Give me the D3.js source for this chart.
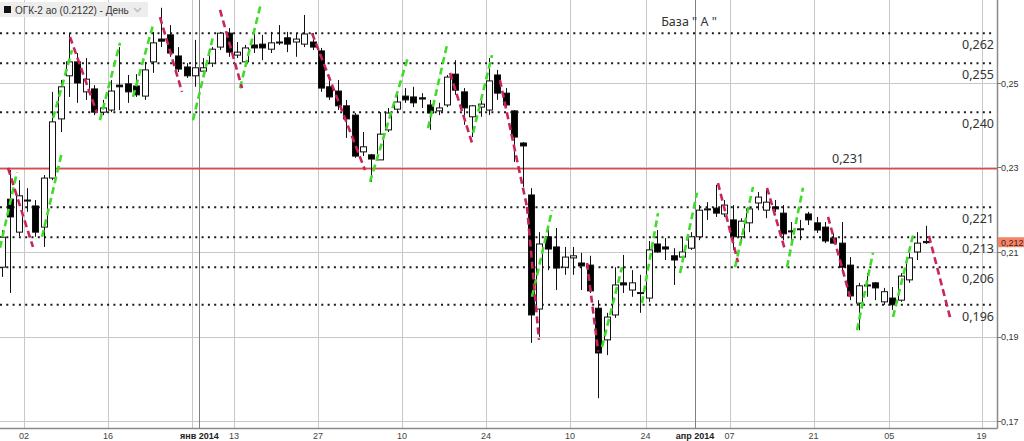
<!DOCTYPE html>
<html>
<head>
<meta charset="utf-8">
<script src="https://cdn.jsdelivr.net/npm/d3@7/dist/d3.min.js"></script>
<style>
  body { margin: 0; background: #fff; }
  svg { display: block; }
</style>
</head>
<body>
<script>
// trading-day index of the first candle (0 = 02 Dec 2013)
var firstIndex = -3;

// [open, high, low, close]
var candles = [
  [0.2064, 0.2152, 0.2041, 0.2135],
  [0.2225, 0.2294, 0.2003, 0.2183],
  [0.2147, 0.2270, 0.2138, 0.2233],
  [0.2223, 0.2251, 0.2195, 0.2222],
  [0.2209, 0.2223, 0.2136, 0.2147],
  [0.2159, 0.2282, 0.2112, 0.2275],
  [0.2275, 0.2479, 0.2270, 0.2408],
  [0.2415, 0.2507, 0.2384, 0.2491],
  [0.2517, 0.2618, 0.2467, 0.2550],
  [0.2550, 0.2571, 0.2453, 0.2500],
  [0.2479, 0.2559, 0.2460, 0.2509],
  [0.2486, 0.2495, 0.2424, 0.2431],
  [0.2431, 0.2460, 0.2424, 0.2441],
  [0.2436, 0.2507, 0.2431, 0.2481],
  [0.2495, 0.2585, 0.2436, 0.2491],
  [0.2498, 0.2519, 0.2453, 0.2479],
  [0.2493, 0.2521, 0.2467, 0.2472],
  [0.2469, 0.2550, 0.2460, 0.2531],
  [0.2550, 0.2621, 0.2524, 0.2595],
  [0.2604, 0.2678, 0.2585, 0.2599],
  [0.2614, 0.2637, 0.2562, 0.2571],
  [0.2564, 0.2585, 0.2526, 0.2533],
  [0.2538, 0.2547, 0.2512, 0.2517],
  [0.2517, 0.2602, 0.2491, 0.2536],
  [0.2528, 0.2559, 0.2526, 0.2536],
  [0.2547, 0.2585, 0.2538, 0.2580],
  [0.2585, 0.2621, 0.2578, 0.2618],
  [0.2618, 0.2630, 0.2562, 0.2573],
  [0.2566, 0.2597, 0.2559, 0.2573],
  [0.2550, 0.2590, 0.2538, 0.2583],
  [0.2590, 0.2618, 0.2571, 0.2583],
  [0.2592, 0.2614, 0.2554, 0.2583],
  [0.2580, 0.2621, 0.2571, 0.2595],
  [0.2597, 0.2637, 0.2590, 0.2595],
  [0.2607, 0.2621, 0.2573, 0.2592],
  [0.2597, 0.2618, 0.2562, 0.2604],
  [0.2592, 0.2661, 0.2585, 0.2616],
  [0.2597, 0.2618, 0.2578, 0.2585],
  [0.2576, 0.2583, 0.2479, 0.2488],
  [0.2491, 0.2512, 0.2460, 0.2467],
  [0.2481, 0.2507, 0.2436, 0.2446],
  [0.2446, 0.2460, 0.2370, 0.2415],
  [0.2424, 0.2429, 0.2323, 0.2327],
  [0.2337, 0.2384, 0.2327, 0.2349],
  [0.2330, 0.2332, 0.2266, 0.2320],
  [0.2318, 0.2431, 0.2318, 0.2379],
  [0.2389, 0.2441, 0.2384, 0.2429],
  [0.2438, 0.2472, 0.2431, 0.2455],
  [0.2469, 0.2488, 0.2453, 0.2460],
  [0.2467, 0.2491, 0.2443, 0.2453],
  [0.2465, 0.2476, 0.2441, 0.2462],
  [0.2448, 0.2460, 0.2389, 0.2429],
  [0.2434, 0.2453, 0.2424, 0.2441],
  [0.2448, 0.2519, 0.2443, 0.2514],
  [0.2521, 0.2554, 0.2472, 0.2483],
  [0.2479, 0.2488, 0.2401, 0.2441],
  [0.2420, 0.2448, 0.2372, 0.2446],
  [0.2443, 0.2460, 0.2420, 0.2450],
  [0.2436, 0.2559, 0.2424, 0.2505],
  [0.2519, 0.2531, 0.2460, 0.2476],
  [0.2476, 0.2488, 0.2443, 0.2448],
  [0.2434, 0.2436, 0.2313, 0.2372],
  [0.2358, 0.2360, 0.2254, 0.2351],
  [0.2235, 0.2251, 0.1885, 0.1951],
  [0.1965, 0.2147, 0.1899, 0.2119],
  [0.2136, 0.2159, 0.2057, 0.2107],
  [0.2112, 0.2157, 0.2010, 0.2062],
  [0.2064, 0.2112, 0.2046, 0.2088],
  [0.2086, 0.2112, 0.2046, 0.2091],
  [0.2074, 0.2098, 0.2010, 0.2067],
  [0.2069, 0.2091, 0.2003, 0.2008],
  [0.1967, 0.1986, 0.1754, 0.1861],
  [0.1892, 0.1956, 0.1856, 0.1946],
  [0.1951, 0.2064, 0.1944, 0.2022],
  [0.2027, 0.2093, 0.2003, 0.2022],
  [0.2010, 0.2057, 0.1994, 0.2027],
  [0.2003, 0.2046, 0.1956, 0.2004],
  [0.1991, 0.2126, 0.1982, 0.2105],
  [0.2119, 0.2152, 0.2098, 0.2100],
  [0.2112, 0.2133, 0.2081, 0.2107],
  [0.2091, 0.2109, 0.2022, 0.2081],
  [0.2088, 0.2136, 0.2081, 0.2100],
  [0.2109, 0.2147, 0.2105, 0.2136],
  [0.2136, 0.2211, 0.2128, 0.2199],
  [0.2202, 0.2218, 0.2176, 0.2201],
  [0.2204, 0.2259, 0.2183, 0.2192],
  [0.2190, 0.2223, 0.2183, 0.2211],
  [0.2176, 0.2211, 0.2105, 0.2136],
  [0.2136, 0.2180, 0.2121, 0.2173],
  [0.2169, 0.2207, 0.2147, 0.2202],
  [0.2216, 0.2242, 0.2199, 0.2230],
  [0.2199, 0.2247, 0.2180, 0.2218],
  [0.2207, 0.2223, 0.2195, 0.2202],
  [0.2192, 0.2211, 0.2128, 0.2143],
  [0.2150, 0.2171, 0.2124, 0.2149],
  [0.2154, 0.2176, 0.2128, 0.2155],
  [0.2190, 0.2195, 0.2164, 0.2176],
  [0.2169, 0.2183, 0.2145, 0.2152],
  [0.2159, 0.2171, 0.2121, 0.2126],
  [0.2133, 0.2145, 0.2121, 0.2121],
  [0.2121, 0.2171, 0.2057, 0.2064],
  [0.2069, 0.2088, 0.1986, 0.1996],
  [0.1979, 0.2027, 0.1915, 0.2020],
  [0.2022, 0.2050, 0.1994, 0.2021],
  [0.2027, 0.2029, 0.1986, 0.2015],
  [0.1982, 0.2015, 0.1975, 0.2006],
  [0.1991, 0.2017, 0.1963, 0.1975],
  [0.1986, 0.2050, 0.1982, 0.2043],
  [0.2034, 0.2100, 0.2027, 0.2086],
  [0.2100, 0.2147, 0.2081, 0.2121],
  [0.2125, 0.2162, 0.2119, 0.2122]
];

// dashed projection legs: [index1, price1, index2, price2]
var greenLegs = [
  [-3.21, 0.2110, -1.19, 0.2289],
  [1.79, 0.2136, 4.17, 0.2337],
  [3.10, 0.2417, 5.36, 0.2578],
  [8.69, 0.2412, 11.07, 0.2595],
  [12.62, 0.2467, 15.00, 0.2637],
  [19.76, 0.2412, 22.14, 0.2609],
  [25.36, 0.2488, 27.86, 0.2689],
  [40.83, 0.2266, 45.36, 0.2561],
  [47.74, 0.2393, 50.00, 0.2590],
  [53.10, 0.2382, 55.36, 0.2566],
  [60.12, 0.1994, 62.50, 0.2199],
  [68.45, 0.1875, 70.83, 0.2064],
  [73.21, 0.1979, 75.12, 0.2192],
  [77.74, 0.2050, 79.76, 0.2240],
  [84.29, 0.2064, 86.43, 0.2254],
  [90.48, 0.2064, 92.38, 0.2252],
  [98.81, 0.1915, 100.71, 0.2098],
  [103.10, 0.1946, 105.48, 0.2140]
];
var redLegs = [
  [-2.26, 0.2299, 0.71, 0.2112],
  [5.12, 0.2609, 8.33, 0.2429],
  [15.83, 0.2656, 18.45, 0.2479],
  [22.98, 0.2673, 25.60, 0.2488],
  [33.93, 0.2618, 40.24, 0.2294],
  [50.36, 0.2524, 52.98, 0.2358],
  [56.30, 0.2507, 59.52, 0.2207],
  [59.52, 0.2207, 60.95, 0.1892],
  [66.67, 0.2074, 68.00, 0.1864],
  [82.26, 0.2263, 84.64, 0.2076],
  [88.10, 0.2252, 90.24, 0.2105],
  [95.36, 0.2183, 97.98, 0.1994],
  [107.38, 0.2138, 109.88, 0.1946]
];

var levels = [0.2618, 0.2547, 0.2431, 0.2206, 0.2135, 0.2064, 0.1975];
var levelLabels = ['0,262', '0,255', '0,240', '0,221', '0,213', '0,206', '0,196'];
var baseLevel = 0.2297;
var baseLabel = '0,231';
var lastPrice = 0.2122;

var dayTicks = [0, 10, 20, 25, 35, 45, 55, 65, 74, 84, 94, 103, 114];
var dayLabels = ['02', '16', '', '13', '27', '10', '24', '10', '24', '07', '21', '05', '19'];
var monthTicks = [21, 80];
var monthLabels = ['янв 2014', 'апр 2014'];
var priceTicks = [0.17, 0.19, 0.21, 0.23, 0.25];

var width = 1024, height = 441;
var plotRight = 997, plotBottom = 428;

var svg = d3.select('body').append('svg')
    .attr('width', width)
    .attr('height', height)
    .style('font-family', 'Liberation Sans, Arial, sans-serif');

// gridline position for a trading day; candles sit 3px right of it
var x = d3.scaleLinear().domain([0, 114]).range([24, 981.6]);
var y = d3.scaleLinear().domain([0.17, 0.25]).range([421, 83]);
var cx = function(i) { return x(i) + 3; };

svg.append('defs').append('clipPath').attr('id', 'plot')
    .append('rect').attr('width', plotRight).attr('height', plotBottom);

var grid = svg.append('g');
grid.selectAll('.hg').data(priceTicks).enter().append('line')
    .attr('x1', 0).attr('x2', plotRight)
    .attr('y1', d => Math.round(y(d)) + 0.5).attr('y2', d => Math.round(y(d)) + 0.5)
    .attr('stroke', '#c8c8c8');
grid.selectAll('.vg').data(dayTicks).enter().append('line')
    .attr('x1', d => Math.round(x(d)) + 0.5).attr('x2', d => Math.round(x(d)) + 0.5)
    .attr('y1', 0).attr('y2', plotBottom)
    .attr('stroke', '#c8c8c8');
grid.selectAll('.mg').data(monthTicks).enter().append('line')
    .attr('x1', d => Math.round(x(d)) - 0.5).attr('x2', d => Math.round(x(d)) - 0.5)
    .attr('y1', 0).attr('y2', plotBottom)
    .attr('stroke', '#808080');

var plot = svg.append('g').attr('clip-path', 'url(#plot)');

// dotted support / resistance levels
plot.selectAll('.lvl').data(levels).enter().append('line')
    .attr('x1', 0).attr('x2', plotRight - 3)
    .attr('y1', d => y(d)).attr('y2', d => y(d))
    .attr('stroke', '#1a1a1a')
    .attr('stroke-width', 2)
    .attr('stroke-dasharray', '2,4.3');

plot.append('line')
    .attr('x1', 0).attr('x2', plotRight)
    .attr('y1', y(baseLevel)).attr('y2', y(baseLevel))
    .attr('stroke', '#e0484c')
    .attr('stroke-width', 1.6);

// candles
var bars = candles.map((d, k) => ({ i: firstIndex + k, o: d[0], h: d[1], l: d[2], c: d[3] }));
var candle = plot.selectAll('.candle').data(bars).enter().append('g');
candle.append('line')
    .attr('x1', d => Math.round(cx(d.i)) + 0.5).attr('x2', d => Math.round(cx(d.i)) + 0.5)
    .attr('y1', d => y(d.h)).attr('y2', d => y(d.l))
    .attr('stroke', '#111');
candle.append('rect')
    .attr('x', d => Math.round(cx(d.i)) - 2.5)
    .attr('width', 6)
    .attr('y', d => y(Math.max(d.o, d.c)))
    .attr('height', d => Math.max(1, Math.abs(y(d.o) - y(d.c))))
    .attr('fill', d => d.c >= d.o ? '#fff' : '#000')
    .attr('stroke', '#111');

// dashed legs
function drawLegs(data, colour) {
    plot.selectAll(null).data(data).enter().append('line')
        .attr('x1', d => cx(d[0])).attr('y1', d => y(d[1]))
        .attr('x2', d => cx(d[2])).attr('y2', d => y(d[3]))
        .attr('stroke', colour)
        .attr('stroke-width', 2.6)
        .attr('stroke-dasharray', '7,4');
}
drawLegs(greenLegs, '#3fdc2a');
drawLegs(redLegs, '#c8265a');

// level captions
var caption = svg.append('g')
    .style('font-family', 'Noto Sans, Open Sans, sans-serif')
    .style('font-size', '12.5px')
    .attr('fill', '#333');
caption.selectAll('.lt').data(levels).enter().append('text')
    .attr('x', 994)
    .attr('y', d => y(d) + 16)
    .attr('text-anchor', 'end')
    .text((d, k) => levelLabels[k]);
caption.append('text')
    .attr('x', 848).attr('y', y(baseLevel) - 6)
    .attr('text-anchor', 'middle')
    .text(baseLabel);
caption.append('text')
    .attr('x', 689).attr('y', 26)
    .attr('text-anchor', 'middle')
    .text('База " А "');

// axes lines
svg.append('line').attr('x1', 0).attr('x2', plotRight + 0.5)
    .attr('y1', plotBottom + 0.5).attr('y2', plotBottom + 0.5)
    .attr('stroke', '#8a8a8a').attr('stroke-width', 1.5);
svg.append('line').attr('x1', plotRight + 0.5).attr('x2', plotRight + 0.5)
    .attr('y1', 0).attr('y2', plotBottom + 0.5)
    .attr('stroke', '#8a8a8a').attr('stroke-width', 1.5);

// right price axis
var yAxis = svg.append('g');
yAxis.selectAll('.yt').data(priceTicks).enter().append('line')
    .attr('x1', plotRight).attr('x2', plotRight + 4)
    .attr('y1', d => Math.round(y(d)) + 0.5).attr('y2', d => Math.round(y(d)) + 0.5)
    .attr('stroke', '#777');
yAxis.selectAll('.yl').data(priceTicks).enter().append('text')
    .attr('x', 1001).attr('y', d => y(d) + 3.5)
    .style('font-size', '9px').attr('fill', '#333')
    .text(d => d3.format('.2f')(d).replace('.', ','));
yAxis.append('rect')
    .attr('x', plotRight + 1).attr('y', y(lastPrice) - 5.5)
    .attr('width', width - plotRight - 1).attr('height', 10)
    .attr('fill', '#f3866a');
yAxis.append('text')
    .attr('x', 1001).attr('y', y(lastPrice) + 3.5)
    .style('font-size', '9px').attr('fill', '#5a1a10')
    .text(d3.format('.3f')(lastPrice).replace('.', ','));

// time axis labels
var xAxis = svg.append('g').style('font-size', '9px').attr('fill', '#444');
xAxis.selectAll('.xl').data(dayTicks).enter().append('text')
    .attr('x', d => x(d)).attr('y', 439)
    .attr('text-anchor', 'middle')
    .text((d, k) => dayLabels[k]);
xAxis.selectAll('.ml').data(monthTicks).enter().append('text')
    .attr('x', d => x(d) - 1).attr('y', 439)
    .attr('text-anchor', 'middle')
    .style('font-weight', 'bold').attr('fill', '#222')
    .text((d, k) => monthLabels[k]);

// legend tab
var legend = svg.append('g');
legend.append('rect').attr('x', 0).attr('y', 2).attr('width', 148).attr('height', 15)
    .attr('fill', '#ebebeb').attr('opacity', 0.9);
legend.append('rect').attr('x', 4).attr('y', 6).attr('width', 7).attr('height', 7)
    .attr('fill', '#111');
legend.append('text').attr('x', 15).attr('y', 13.5)
    .style('font-size', '10px').attr('fill', '#333')
    .text('ОГК-2 ао (0.2122) - День');
legend.append('path').attr('d', 'M134,8 L137.5,11.5 L141,8')
    .attr('fill', 'none').attr('stroke', '#bbb').attr('stroke-width', 1.5);
</script>
</body>
</html>
